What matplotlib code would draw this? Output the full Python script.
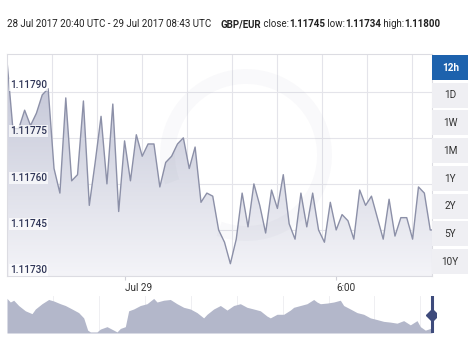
import numpy as np
import matplotlib
matplotlib.use('Agg')
import matplotlib.pyplot as plt
from matplotlib.patches import Rectangle, Wedge
from matplotlib.colors import to_rgb

plt.rcParams['font.family'] = ['Roboto', 'DejaVu Sans']

# ── Data ──────────────────────────────────────────────────────────────────────
# GBP/EUR, 10-minute steps from 28 Jul 20:40 UTC, last tick at 08:43
minutes = [10 * i for i in range(73)] + [723]
rates = [
    1.11800, 1.11778, 1.11778, 1.11784, 1.11779, 1.11783, 1.11789, 1.11791,
    1.11765, 1.11757, 1.11788, 1.11761, 1.11763, 1.11787, 1.11753, 1.11767,
    1.11782, 1.11760, 1.11786, 1.11751, 1.11774, 1.11761, 1.11776, 1.11769,
    1.11773, 1.11773, 1.11759, 1.11767, 1.11769, 1.11773, 1.11775, 1.11765,
    1.11772, 1.11754, 1.11757, 1.11756, 1.11745, 1.11741, 1.11734, 1.11742,
    1.11757, 1.11746, 1.11760, 1.11753, 1.11744, 1.11758, 1.11752, 1.11763,
    1.11747, 1.11742, 1.11757, 1.11746, 1.11757, 1.11745, 1.11741, 1.11754,
    1.11745, 1.11750, 1.11748, 1.11742, 1.11758, 1.11753, 1.11756, 1.11749,
    1.11742, 1.11755, 1.11743, 1.11749, 1.11749, 1.11742, 1.11759, 1.11757,
    1.11745, 1.11745,
]
y_ticks = [1.11730, 1.11745, 1.11760, 1.11775, 1.11790]
x_tick_min = [200, 560]
x_tick_lbl = ['Jul 29', '6:00']
buttons = ['12h', '1D', '1W', '1M', '1Y', '2Y', '5Y', '10Y']

# navigator overview (days, relative level)
nav_day = [0.0, 0.055, 0.11, 0.192, 0.302, 0.412, 0.467, 0.576, 0.686, 0.769,
           0.878, 0.961, 1.071, 1.18, 1.263, 1.329, 1.373, 1.482, 1.537, 1.647,
           1.757, 1.812, 1.867, 1.949, 2.004, 2.086, 2.196, 2.306, 2.416, 2.471,
           2.58, 2.69, 2.8, 2.91, 3.02, 3.129, 3.239, 3.294, 3.404, 3.514,
           3.624, 3.733, 3.843, 3.953, 4.063, 4.173, 4.282, 4.337, 4.447, 4.557,
           4.667, 4.722, 4.831, 4.941, 5.051, 5.106, 5.161, 5.271, 5.38, 5.49,
           5.545, 5.655, 5.765, 5.875, 5.984, 6.094, 6.204, 6.314, 6.424, 6.533,
           6.643, 6.753, 6.808, 6.89, 6.973, 7.0]
nav_level = [32.7, 29.3, 31, 26, 21, 18.3, 22.7, 27.7, 31.7, 30.3,
             27.7, 26, 22.7, 19.3, 14.3, 2.7, 1, 1, 3.7, 6,
             2.7, 1, 4.3, 6, 21, 22.7, 26, 27.7, 32.7, 29.3,
             31, 31.7, 27.7, 24.3, 22.7, 19.3, 14.3, 17.7, 22.7, 26,
             21.7, 26, 27.7, 24.3, 22.7, 21, 16, 14.3, 17.7, 17.7,
             21.7, 24.3, 26, 27.7, 31.7, 29.3, 27.7, 28.3, 29.3, 31,
             26, 22.7, 19.3, 17.7, 14.3, 12.7, 11, 10.3, 9.3, 11.7,
             7.7, 11.7, 6, 2.7, 4.3, 4.3]

W, H = 474, 351
fig = plt.figure(figsize=(W / 100, H / 100), dpi=100)
fig.patch.set_facecolor('white')

def px_box(x0, y0, x1, y1):
    return [x0 / W, 1 - y1 / H, (x1 - x0) / W, (y1 - y0) / H]

# ── Main chart ────────────────────────────────────────────────────────────────
ax = fig.add_axes(px_box(7, 54, 432, 276))
ymin, ymax = 1.11730, 1.118023
ax.set_xlim(0, 723)
ax.set_ylim(ymin, ymax)

grid_c = '#e4e4ea'
for k in range(1, 10):
    ax.axvline(k * 76.55, color=grid_c, lw=0.8, zorder=0)
for v in y_ticks[1:]:
    ax.axhline(v, color=grid_c, lw=0.8, zorder=0)

# faint watermark ring
ring = Wedge((246 / 100, (H - 155) / 100), 0.86, 250, 200, width=0.15,
             transform=fig.dpi_scale_trans, facecolor='#5a5f80', alpha=0.03,
             edgecolor='none', zorder=3)
ax.add_artist(ring)
ring.set_clip_box(ax.bbox)

fill = ax.fill_between(minutes, rates, ymin, color='none', zorder=1)
top = np.array(to_rgb('#bfc2d4'))
bot = np.array(to_rgb('#f4f4f8'))
t = np.linspace(0, 1, 256)[:, None]
grad = (top * (1 - t) + bot * t)[:, None, :]
im = ax.imshow(grad, extent=[0, 723, ymin, ymax], aspect='auto',
               origin='upper', zorder=1)
im.set_clip_path(fill.get_paths()[0], ax.transData)
ax.plot(minutes, rates, color='#8c90a8', lw=1.0, zorder=2)

for v in y_ticks:
    ax.text(5, v + 0.0000045, f'{v:.5f}', fontsize=7.2, color='#2f3557',
            fontweight='medium', va='bottom', ha='left', zorder=4,
            bbox=dict(boxstyle='square,pad=0.1', fc='white', ec='none', alpha=0.7))

ax.set_xticks(x_tick_min)
ax.set_xticklabels(x_tick_lbl, ha='left', fontsize=7.2, color='#333333')
ax.tick_params(axis='x', length=3, color='#d0d0d8', pad=2)
ax.set_yticks([])
for s in ax.spines.values():
    s.set_color('#dcdce2')
    s.set_linewidth(0.8)

# ── Range buttons ─────────────────────────────────────────────────────────────
bx = fig.add_axes(px_box(432, 54, 470, 278))
bx.set_xlim(0, 38)
bx.set_ylim(224, 0)
bx.axis('off')
for i, lab in enumerate(buttons):
    y0 = 1 + i * 27.7
    active = i == 0
    bx.add_patch(Rectangle((0.3, y0), 36, 25,
                           facecolor='#1d62ad' if active else '#efeff3',
                           edgecolor='none'))
    bx.text(18.3, y0 + 12.8, lab, ha='center', va='center', fontsize=7.2,
            color='white' if active else '#333333',
            fontweight='bold' if active else 'normal')

# ── Navigator ─────────────────────────────────────────────────────────────────
nx = fig.add_axes(px_box(7, 296, 436, 333))
nx.set_xlim(0, 7 * 429 / 425)
nx.set_ylim(0, 35)
for k in range(1, 10):
    nx.axvline(k * 0.7565, color='#ececf0', lw=0.6, zorder=0)
nx.fill_between(nav_day, nav_level, 0, color='#b3b7ca', lw=0, zorder=1)
nx.plot([7, 7], [0, 35], color='#3e4b7c', lw=2.2, zorder=3)
nx.plot([7], [17], marker='D', ms=6, color='#3e4b7c', zorder=4)
nx.axis('off')

# ── Header ────────────────────────────────────────────────────────────────────
pieces = [('28 Jul 2017 20:40 UTC - 29 Jul 2017 08:43 UTC    ', 'normal'),
          ('GBP/EUR', 'bold'), (' close:', 'normal'), ('1.11745', 'bold'),
          (' low:', 'normal'), ('1.11734', 'bold'), (' high:', 'normal'),
          ('1.11800', 'bold')]
fig.canvas.draw()
r = fig.canvas.get_renderer()
x = 7
for txt, wt in pieces:
    tt = fig.text(x / W, 1 - 24 / H, txt, fontsize=7.05, fontweight=wt,
                  color='#222222', va='center', ha='left')
    x += tt.get_window_extent(renderer=r).width

fig.savefig('out.png', dpi=100, facecolor='white')
